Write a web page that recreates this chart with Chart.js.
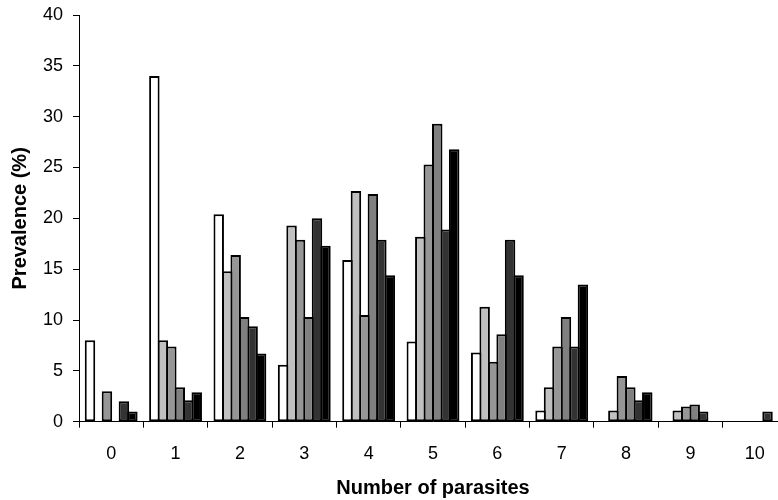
<!DOCTYPE html>
<html>
<head>
<meta charset="utf-8">
<script src="https://cdn.jsdelivr.net/npm/chart.js@4"></script>
<style>
  html, body { margin: 0; padding: 0; background: #fff; overflow: hidden; }
  #wrap { width: 787px; height: 500px; }
</style>
</head>
<body>
<div id="wrap"><canvas id="parasiteChart"></canvas></div>
<script>
const categories = ['0', '1', '2', '3', '4', '5', '6', '7', '8', '9', '10'];

// one array per series (prevalence %)
const seriesA = [8, 34, 20.4, 5.6, 15.9, 7.9, 6.8, 1.1, 0, 0, 0];
const seriesB = [0, 8, 14.8, 19.3, 22.7, 18.2, 11.3, 3.4, 1.1, 1.1, 0];
const seriesC = [3, 7.4, 16.4, 17.9, 10.5, 25.3, 5.9, 7.4, 4.5, 1.5, 0];
const seriesD = [0, 3.4, 10.3, 10.3, 22.4, 29.3, 8.6, 10.3, 3.4, 1.7, 0];
const seriesE = [2, 2.1, 9.4, 20, 17.9, 18.9, 17.9, 7.4, 2.1, 1, 1];
const seriesF = [1, 2.9, 6.7, 17.3, 14.4, 26.8, 14.4, 13.5, 2.9, 0, 0];

const yTicks = [0, 5, 10, 15, 20, 25, 30, 35, 40];

const fills = ['#ffffff', '#c0c0c0', '#969696', '#808080', '#333333', '#000000'];
const allSeries = [seriesA, seriesB, seriesC, seriesD, seriesE, seriesF];

const datasets = allSeries.map((values, i) => ({
  data: values,
  backgroundColor: fills[i],
  borderColor: '#000',
  // no outline on empty bars, otherwise a stub shows on the axis
  borderWidth: (c) => (c.raw ? 2 : 0),
  borderSkipped: false,
  // bars a bit wider than their slot so neighbours share one outline
  barPercentage: 1.236,
  categoryPercentage: 0.79,
}));

const ctx = document.getElementById('parasiteChart').getContext('2d');

new Chart(ctx, {
  type: 'bar',
  data: { labels: categories, datasets: datasets },
  options: {
    responsive: true,
    maintainAspectRatio: false,
    animation: false,
    layout: { padding: { top: 15, left: 0, right: 0, bottom: 0 } },
    plugins: {
      legend: { display: false },
      tooltip: { enabled: false },
    },
    scales: {
      x: {
        grid: {
          display: true,
          drawOnChartArea: false,
          drawTicks: true,
          tickLength: 6,
          color: '#000',
        },
        border: { display: true, color: '#000', width: 1 },
        ticks: {
          color: '#000',
          padding: 16,
          maxRotation: 0,
          font: { family: 'Liberation Sans, Arial, sans-serif', size: 18 },
        },
        title: {
          display: true,
          text: 'Number of parasites',
          color: '#000',
          padding: { top: 0, bottom: 0 },
          font: { family: 'Liberation Sans, Arial, sans-serif', size: 20, weight: 'bold' },
        },
        afterFit: (scale) => { scale.height = 78.3; },
      },
      y: {
        min: 0,
        max: 40,
        afterBuildTicks: (scale) => { scale.ticks = yTicks.map((v) => ({ value: v })); },
        grid: {
          display: true,
          drawOnChartArea: false,
          drawTicks: true,
          tickLength: 6,
          color: '#000',
        },
        border: { display: true, color: '#000', width: 1 },
        ticks: {
          color: '#000',
          padding: 10,
          font: { family: 'Liberation Sans, Arial, sans-serif', size: 18 },
        },
        title: {
          display: true,
          text: 'Prevalence (%)',
          color: '#000',
          padding: { top: 8, bottom: 0 },
          font: { family: 'Liberation Sans, Arial, sans-serif', size: 20, weight: 'bold' },
        },
        afterFit: (scale) => {
          scale.width = 79;
          // label half-height + tick padding pushes the plot down too far
          scale.paddingTop = 12;
        },
      },
    },
  },
});
</script>
</body>
</html>
